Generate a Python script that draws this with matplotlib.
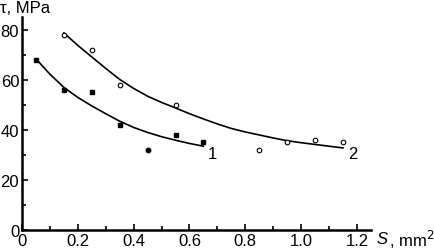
import matplotlib.pyplot as plt

plt.rcParams['font.family'] = ['Liberation Sans', 'DejaVu Sans']

# measured points
s1 = [0.05, 0.15, 0.25, 0.35, 0.55, 0.65]
tau1 = [68, 56, 55, 42, 38, 35]
s1_round = [0.45]
tau1_round = [32]
s2 = [0.15, 0.25, 0.35, 0.55, 0.85, 0.95, 1.05, 1.15]
tau2 = [78, 72, 58, 50, 32, 35, 36, 35]

# fitted curves
fit1_s = [0.05, 0.10, 0.15, 0.20, 0.25, 0.30, 0.35, 0.40, 0.45, 0.50, 0.55, 0.60, 0.65]
fit1_tau = [68.4, 62.3, 57, 53, 49.6, 46.5, 43.5, 41, 39, 37.3, 35.9, 34.6, 33.5]
fit2_s = [0.15, 0.20, 0.25, 0.30, 0.35, 0.40, 0.45, 0.50, 0.55, 0.60, 0.65,
          0.70, 0.75, 0.80, 0.85, 0.90, 0.95, 1.00, 1.05, 1.10, 1.15]
fit2_tau = [78.8, 73.8, 69.2, 64.6, 60.2, 56.6, 53.5, 51, 48.8, 46.5, 44.4,
            42.4, 40.6, 39.2, 38, 36.8, 35.7, 34.9, 34.2, 33.5, 32.8]

fig = plt.figure(figsize=(4.35, 2.51), dpi=100)
ax = fig.add_axes([0.0506, 0.0797, 0.802, 0.847])

ax.plot(fit1_s, fit1_tau, color='black', lw=1.2)
ax.plot(fit2_s, fit2_tau, color='black', lw=1.2)
ax.plot(s1, tau1, 's', color='black', ms=3)
ax.plot(s1_round, tau1_round, 'o', color='black', ms=3.2)
ax.plot(s2, tau2, 'o', mfc='white', mec='black', mew=0.8, ms=3.3)

ax.text(0.665, 30.5, '1', fontsize=12, va='center')
ax.text(1.17, 30.5, '2', fontsize=12, va='center')

ax.set_xlim(0, 1.25)
ax.set_ylim(0, 85)
ax.set_xticks([0, 0.2, 0.4, 0.6, 0.8, 1.0, 1.2])
ax.set_xticklabels(['0', '0.2', '0.4', '0.6', '0.8', '1.0', '1.2'])
ax.set_xticks([0.1, 0.3, 0.5, 0.7, 0.9, 1.1], minor=True)
ax.set_yticks([0, 20, 40, 60, 80])
ax.set_yticks([10, 30, 50, 70], minor=True)
ax.tick_params(which='both', direction='in', width=1.2, labelsize=12, pad=2)
ax.tick_params(which='major', length=4)
ax.tick_params(which='minor', length=3)

for side in ['top', 'right']:
    ax.spines[side].set_visible(False)
for side in ['left', 'bottom']:
    ax.spines[side].set_linewidth(1.8)

fig.text(0.0, 0.965, 'τ, MPa', fontsize=12, va='center', ha='left')
fig.text(0.866, 0.045, 'S', fontsize=12, style='italic', va='center', ha='left')
fig.text(0.895, 0.045, ', mm$^2$', fontsize=12, va='center', ha='left')

fig.savefig('out.png', dpi=100)
